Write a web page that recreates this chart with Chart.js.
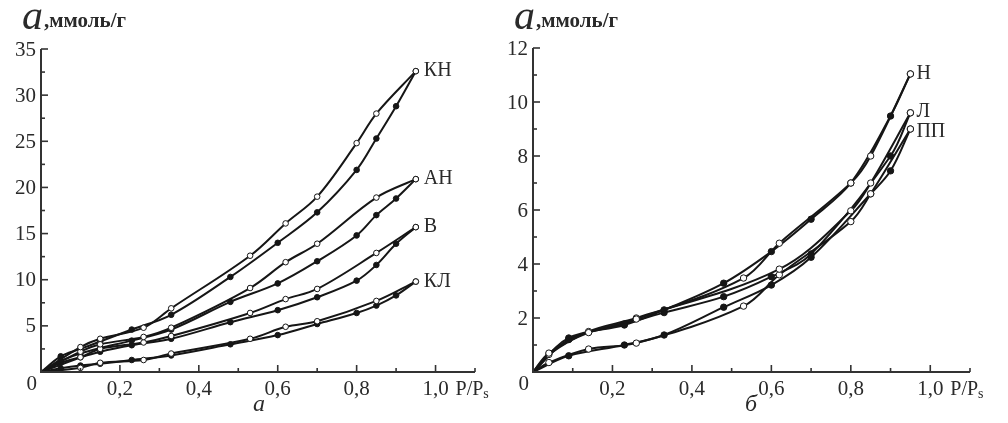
<!DOCTYPE html>
<html><head><meta charset="utf-8">
<script src="https://cdn.jsdelivr.net/npm/chart.js@4/dist/chart.umd.min.js"></script>
<style>
html,body{margin:0;padding:0;background:#fff;}
#wrap{position:relative;width:1008px;height:423px;overflow:hidden;}
canvas{position:absolute;top:0;}
</style></head><body>
<div id="wrap">
<canvas id="c1" width="500" height="423" style="left:0"></canvas>
<canvas id="c2" width="508" height="423" style="left:500px"></canvas>
</div>
<script>
// ---------- Panel a (left) ----------
const adsP = [0, 0.05, 0.10, 0.15, 0.23, 0.33, 0.48, 0.60, 0.70, 0.80, 0.85, 0.90, 0.95];
const desP = [0, 0.10, 0.15, 0.26, 0.33, 0.53, 0.62, 0.70, 0.80, 0.85, 0.95];
const knAds = [0, 1.7, 2.5, 3.3, 4.6, 6.2, 10.3, 14.0, 17.3, 21.9, 25.3, 28.8, 32.6];
const knDes = [0, 2.7, 3.6, 4.8, 6.9, 12.6, 16.1, 19.0, 24.8, 28.0, 32.6];
const anAds = [0, 1.2, 2.0, 2.6, 3.4, 4.6, 7.6, 9.6, 12.0, 14.8, 17.0, 18.8, 20.9];
const anDes = [0, 2.2, 3.0, 3.8, 4.8, 9.1, 11.9, 13.9, null, 18.9, 20.9];
const vAds = [0, 1.0, 1.6, 2.2, 2.9, 3.6, 5.4, 6.7, 8.1, 9.9, 11.6, 13.9, 15.7];
const vDes = [0, 1.6, 2.5, 3.2, 3.9, 6.4, 7.9, 9.0, null, 12.9, 15.7];
const klAds = [0, 0.4, 0.7, 0.9, 1.3, 1.8, 3.0, 4.0, 5.2, 6.4, 7.2, 8.3, 9.8];
const klDes = [0, 0.45, 1.0, 1.3, 2.0, 3.6, 4.9, 5.5, null, 7.7, 9.8];
const leftNames = ['КН', 'АН', 'В', 'КЛ'];

// ---------- Panel б (right) ----------
const rAdsP = [0, 0.09, 0.23, 0.33, 0.48, 0.60, 0.70, 0.80, 0.85, 0.90, 0.95];
const rDesP = [0, 0.04, 0.14, 0.26, 0.53, 0.62, 0.80, 0.85, 0.95];
const nAds = [0, 1.26, 1.74, 2.3, 3.29, 4.46, 5.66, 7.0, null, 9.48, 11.04];
const nDes = [0, 0.7, 1.46, 1.96, 3.48, 4.77, 7.0, 8.0, 11.04];
const lAds = [0, 1.2, 1.78, 2.2, 2.79, 3.53, 4.37, null, null, 8.0, 9.6];
const lDes = [0, 0.65, 1.5, 2.0, null, 3.81, 5.97, 7.0, 9.6];
const ppAds = [0, 0.6, 1.0, 1.37, 2.4, 3.22, 4.25, null, 6.6, 7.45, 9.0];
const ppDes = [0, 0.35, 0.85, 1.07, 2.44, 3.6, 5.57, 6.6, 9.0];
const rightNames = ['Н', 'Л', 'ПП'];

// ---------- Ticks ----------
const xTickVals = [0.2, 0.4, 0.6, 0.8, 1.0];
const xTickLabels = ['0,2', '0,4', '0,6', '0,8', '1,0'];
const leftYTicks = [5, 10, 15, 20, 25, 30, 35];
const rightYTicks = [2, 4, 6, 8, 10, 12];
const yTitle = 'ммоль/г';
const yTitleSymbol = 'a';
const xTitle = 'P/P';
const xTitleSub = 's';
const captions = ['а', 'б'];

const INK = '#161616';
const TXT = '#2a2a2a';
const SERIF = '"Liberation Serif", "DejaVu Serif", serif';

function pts(xs, ys) {
  const out = [];
  xs.forEach((x, i) => { if (ys[i] !== null && ys[i] !== undefined) out.push({x: x, y: ys[i]}); });
  return out;
}
function ds(xs, ys, filled, r) {
  return {
    data: pts(xs, ys),
    showLine: true,
    borderColor: INK,
    borderWidth: 2,
    tension: 0.35,
    pointBackgroundColor: ctx => (ctx.dataIndex === 0 ? 'rgba(0,0,0,0)' : (filled ? INK : '#fff')),
    pointBorderColor: ctx => (ctx.dataIndex === 0 ? 'rgba(0,0,0,0)' : INK),
    pointRadius: r,
    pointBorderWidth: 1,
    order: filled ? 1 : 0
  };
}

function axesPlugin(cfg) {
  return {
    id: 'axes_' + cfg.id,
    afterDraw(chart) {
      const c = chart.ctx, xs = chart.scales.x, ys = chart.scales.y;
      const x0 = xs.getPixelForValue(0), y0 = ys.getPixelForValue(0);
      const xEnd = xs.getPixelForValue(xs.max), yTop = ys.getPixelForValue(ys.max);
      c.save();
      c.strokeStyle = '#333';
      c.lineWidth = 2;
      c.beginPath();
      c.moveTo(x0, yTop); c.lineTo(x0, y0); c.lineTo(xEnd, y0);
      c.stroke();
      c.lineWidth = 1.6;
      for (let v = cfg.yMinor; v <= ys.max + 1e-9; v += cfg.yMinor) {
        const major = Math.abs(v / cfg.yMajor - Math.round(v / cfg.yMajor)) < 1e-6;
        const p = ys.getPixelForValue(v);
        c.beginPath(); c.moveTo(x0, p); c.lineTo(x0 + (major ? 7 : 4), p); c.stroke();
      }
      for (let v = 0.1; v <= xs.max + 1e-9; v += 0.1) {
        const major = Math.abs(v / 0.2 - Math.round(v / 0.2)) < 1e-6;
        const p = xs.getPixelForValue(v);
        c.beginPath(); c.moveTo(p, y0); c.lineTo(p, y0 - (major ? 7 : 4)); c.stroke();
      }
      c.fillStyle = TXT;
      c.font = '21px ' + SERIF;
      c.textBaseline = 'middle';
      c.textAlign = 'right';
      cfg.yTicks.forEach(v => c.fillText(String(v), x0 - 5, ys.getPixelForValue(v) + 1));
      c.fillText('0', x0 - 4, y0 + 12);
      c.textAlign = 'center';
      c.textBaseline = 'alphabetic';
      xTickVals.forEach((v, i) => c.fillText(xTickLabels[i], xs.getPixelForValue(v), y0 + 23));
      c.textAlign = 'left';
      c.font = '20px ' + SERIF;
      const tx = xs.getPixelForValue(1.0) + 20;
      c.fillText(xTitle, tx, y0 + 23);
      const w = c.measureText(xTitle).width;
      c.font = '14px ' + SERIF;
      c.fillText(xTitleSub, tx + w, y0 + 26);
      c.font = 'italic 42px ' + SERIF;
      c.fillText(yTitleSymbol, x0 - 19, 29);
      c.font = 'bold 21px ' + SERIF;
      c.fillText(',' + yTitle, x0 + 3, 27);
      c.font = 'italic 24px ' + SERIF;
      c.textAlign = 'center';
      c.fillText(cfg.caption, cfg.captionX, 411);
      c.font = '20px ' + SERIF;
      c.textAlign = 'left';
      c.textBaseline = 'middle';
      cfg.names.forEach((n, i) => {
        c.fillText(n, xs.getPixelForValue(0.95) + cfg.labelDx, ys.getPixelForValue(cfg.labelY[i]) + (cfg.labelDy ? cfg.labelDy[i] : 0));
      });
      c.restore();
    }
  };
}

function makeChart(id, datasets, cfg) {
  return new Chart(document.getElementById(id), {
    type: 'scatter',
    data: {datasets: datasets},
    options: {
      responsive: false,
      animation: false,
      devicePixelRatio: 1,
      layout: {padding: cfg.pad},
      plugins: {legend: {display: false}, tooltip: {enabled: false}},
      scales: {
        x: {type: 'linear', min: 0, max: 1.1, display: false},
        y: {type: 'linear', min: 0, max: cfg.ymax, display: false}
      }
    },
    plugins: [axesPlugin(cfg)]
  });
}

makeChart('c1', [
  ds(desP, knDes, false, 2.8), ds(adsP, knAds, true, 2.8),
  ds(desP, anDes, false, 2.8), ds(adsP, anAds, true, 2.8),
  ds(desP, vDes, false, 2.8), ds(adsP, vAds, true, 2.8),
  ds(desP, klDes, false, 2.8), ds(adsP, klAds, true, 2.8)
], {
  id: 'a', pad: {left: 41, top: 49, right: 25, bottom: 51}, ymax: 35,
  yTicks: leftYTicks, yMajor: 5, yMinor: 2.5,
  caption: captions[0], captionX: 259,
  names: leftNames, labelY: [knDes[knDes.length - 1], anDes[anDes.length - 1], vDes[vDes.length - 1], klDes[klDes.length - 1]],
  labelDx: 8
});

makeChart('c2', [
  ds(rDesP, nDes, false, 3.2), ds(rAdsP, nAds, true, 3.2),
  ds(rDesP, lDes, false, 3.2), ds(rAdsP, lAds, true, 3.2),
  ds(rDesP, ppDes, false, 3.2), ds(rAdsP, ppAds, true, 3.2)
], {
  id: 'b', pad: {left: 33, top: 48, right: 38, bottom: 51}, ymax: 12,
  yTicks: rightYTicks, yMajor: 2, yMinor: 1,
  caption: captions[1], captionX: 251,
  names: rightNames, labelY: [nDes[nDes.length - 1], lDes[lDes.length - 1], ppDes[ppDes.length - 1]],
  labelDx: 6, labelDy: [0, -1, 3]
});
</script>
</body></html>
